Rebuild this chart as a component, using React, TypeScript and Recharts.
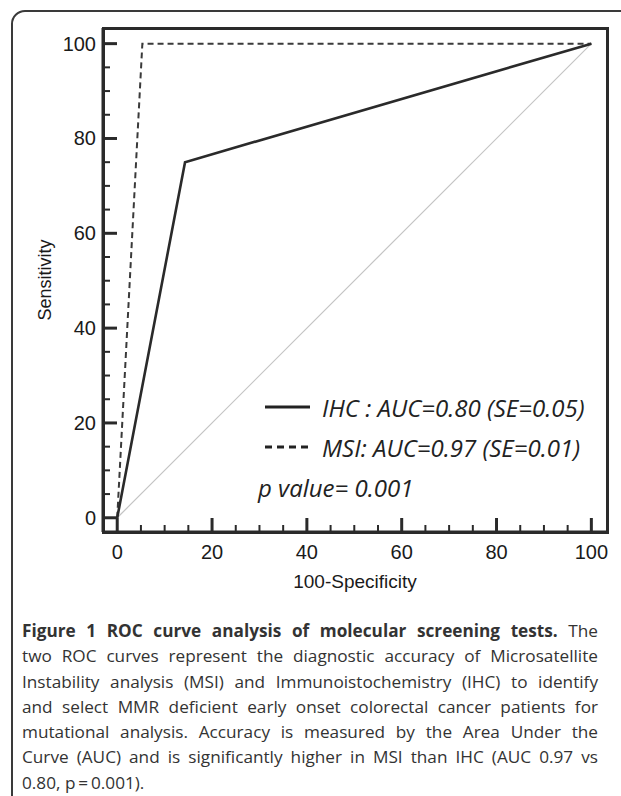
import { LineChart, Line, XAxis, YAxis } from 'recharts';

// ROC points (x = 100-Specificity, y = Sensitivity)
const IHC_POINTS = [
  { x: 0, y: 0 },
  { x: 14.3, y: 75 },
  { x: 100, y: 100 },
];
const MSI_POINTS = [
  { x: 0, y: 0 },
  { x: 5.3, y: 100 },
  { x: 100, y: 100 },
];
const CHANCE_POINTS = [
  { x: 0, y: 0 },
  { x: 100, y: 100 },
];

const AXIS_TICKS = [0, 5, 10, 15, 20, 25, 30, 35, 40, 45, 50, 55, 60, 65, 70, 75, 80, 85, 90, 95, 100];
const MAJOR_TICKS = [0, 20, 40, 60, 80, 100];
const DOMAIN: [number, number] = [-3, 103.3];

const LEGEND_ROWS = [
  { label: 'IHC : AUC=0.80 (SE=0.05)', dash: undefined },
  { label: 'MSI: AUC=0.97 (SE=0.01)', dash: '7 5' },
];
const P_VALUE = 'p value= 0.001';

const CAPTION_LINES = [
  'two ROC curves represent the diagnostic accuracy of Microsatellite',
  'Instability analysis (MSI) and Immunoistochemistry (IHC) to identify',
  'and select MMR deficient early onset colorectal cancer patients for',
  'mutational analysis. Accuracy is measured by the Area Under the',
  'Curve (AUC) and is significantly higher in MSI than IHC (AUC 0.97 vs',
];
const CAPTION_LAST = '0.80, p\u2009=\u20090.001).';

const INK = '#2a2a2a';
const AXIS_FONT = '"Liberation Sans", Arial, sans-serif';

const CHART_W = 621;
const CHART_H = 600;
const MARGIN = { top: 28, right: 14, bottom: 38, left: 63 };
const Y_AXIS_W = 40;
const X_AXIS_H = 30;

function BottomTick({ x, y, payload }: any) {
  const major = MAJOR_TICKS.includes(payload.value);
  return (
    <g>
      <line x1={x} y1={y} x2={x} y2={y - (major ? 14 : 7)} stroke={INK} strokeWidth={major ? 3 : 2} />
      {major && (
        <text x={x} y={y + 27} textAnchor="middle" fontSize={20} fill="#1a1a1a" fontFamily={AXIS_FONT}>
          {payload.value}
        </text>
      )}
    </g>
  );
}

function LeftTick({ x, y, payload }: any) {
  const major = MAJOR_TICKS.includes(payload.value);
  return (
    <g>
      <line x1={x} y1={y} x2={x + (major ? 14 : 7)} y2={y} stroke={INK} strokeWidth={major ? 3 : 2} />
      {major && (
        <text x={x - 7} y={y + 7} textAnchor="end" fontSize={20} fill="#1a1a1a" fontFamily={AXIS_FONT}>
          {payload.value}
        </text>
      )}
    </g>
  );
}

export default function App() {
  const plotLeft = MARGIN.left + Y_AXIS_W;
  const plotTop = MARGIN.top;
  const plotW = CHART_W - plotLeft - MARGIN.right;
  const plotH = CHART_H - MARGIN.top - MARGIN.bottom - X_AXIS_H;
  return (
    <div style={{ position: 'absolute', left: 0, top: 0, width: 621, height: 796, overflow: 'hidden', background: '#fff' }}>
      <div
        style={{
          position: 'absolute', left: 11, top: 10, width: 700, height: 900,
          border: '2px solid #3a3a3a', borderTopLeftRadius: 14,
        }}
      />
      <div style={{ position: 'absolute', left: 0, top: 0 }}>
        <LineChart width={CHART_W} height={CHART_H} margin={MARGIN}>
          <XAxis
            type="number" dataKey="x" domain={DOMAIN} ticks={AXIS_TICKS} interval={0}
            tickLine={false} tickSize={0} tickMargin={0} height={X_AXIS_H}
            axisLine={{ stroke: INK, strokeWidth: 3 }} tick={<BottomTick />}
            label={{ value: '100-Specificity', position: 'bottom', offset: 13, fill: '#1a1a1a', fontSize: 19, fontFamily: AXIS_FONT }}
          />
          <YAxis
            type="number" dataKey="y" domain={DOMAIN} ticks={AXIS_TICKS} interval={0}
            tickLine={false} tickSize={0} tickMargin={0} width={Y_AXIS_W}
            axisLine={{ stroke: INK, strokeWidth: 3 }} tick={<LeftTick />}
            label={{ value: 'Sensitivity', angle: -90, position: 'insideLeft', offset: -18, fill: '#1a1a1a', fontSize: 18, fontFamily: AXIS_FONT, style: { textAnchor: 'middle' } }}
          />
          <Line data={CHANCE_POINTS} dataKey="y" type="linear" stroke="#c4c4c4" strokeWidth={1.2} dot={false} isAnimationActive={false} />
          <Line data={MSI_POINTS} dataKey="y" type="linear" stroke="#3a3a3a" strokeWidth={2} strokeDasharray="6 4" dot={false} isAnimationActive={false} />
          <Line data={IHC_POINTS} dataKey="y" type="linear" stroke="#2a2a2a" strokeWidth={2.6} dot={false} isAnimationActive={false} />
        </LineChart>
      </div>
      {/* box around the plot area */}
      <div
        style={{
          position: 'absolute', left: plotLeft - 1.5, top: plotTop - 1.5, width: plotW + 3, height: plotH + 3,
          boxSizing: 'border-box', border: `3px solid ${INK}`, pointerEvents: 'none',
        }}
      />

      {LEGEND_ROWS.map((row, i) => (
        <div key={row.label} style={{ position: 'absolute', left: 262, top: 392 + i * 40, height: 30, display: 'flex', alignItems: 'center' }}>
          <svg width={50} height={10} style={{ marginRight: 10 }}>
            <line x1={3} y1={5} x2={48} y2={5} stroke="#222" strokeWidth={3} strokeDasharray={row.dash} />
          </svg>
          <span style={{ fontFamily: '"Open Sans", sans-serif', fontStyle: 'italic', fontSize: 24, color: '#222', whiteSpace: 'nowrap' }}>
            {row.label}
          </span>
        </div>
      ))}
      <div style={{ position: 'absolute', left: 258, top: 472, height: 30, display: 'flex', alignItems: 'center', fontFamily: '"Open Sans", sans-serif', fontStyle: 'italic', fontSize: 24, color: '#222', whiteSpace: 'nowrap' }}>
        {P_VALUE}
      </div>

      <div style={{ position: 'absolute', left: 22, top: 618, width: 576, fontFamily: '"Open Sans", sans-serif', fontSize: 17.2, lineHeight: '25.3px', color: '#333' }}>
        <div style={{ textAlign: 'justify', textAlignLast: 'justify', whiteSpace: 'nowrap' }}>
          <b>Figure 1 ROC curve analysis of molecular screening tests.</b> The
        </div>
        {CAPTION_LINES.map((line) => (
          <div key={line} style={{ textAlign: 'justify', textAlignLast: 'justify', whiteSpace: 'nowrap' }}>{line}</div>
        ))}
        <div>{CAPTION_LAST}</div>
      </div>
    </div>
  );
}
